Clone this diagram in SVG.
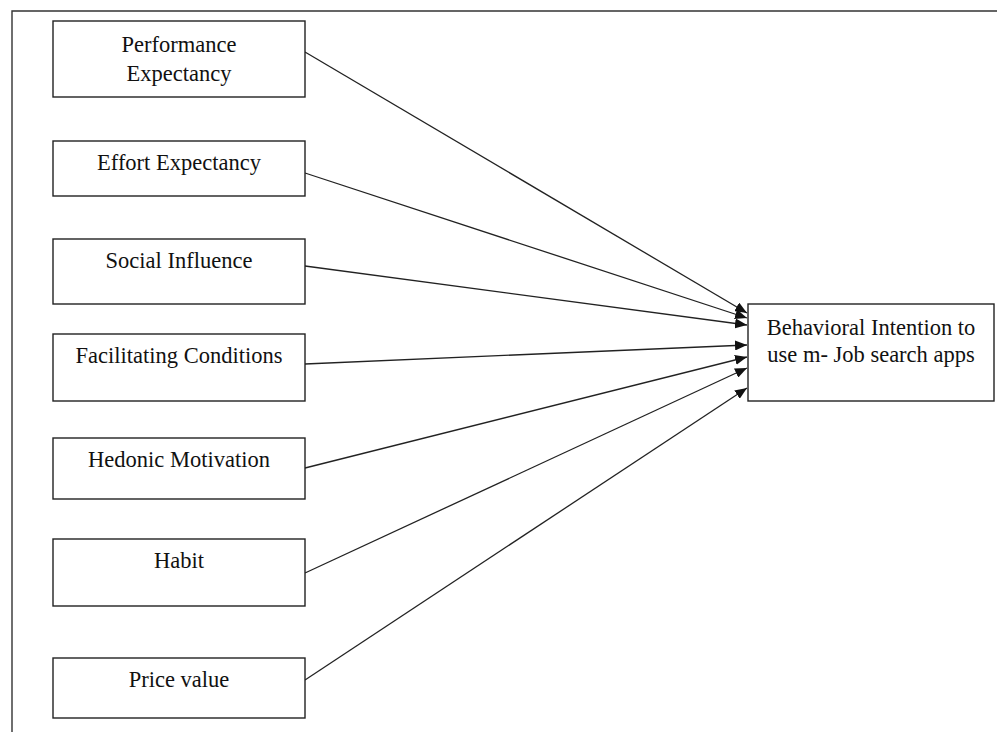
<svg xmlns="http://www.w3.org/2000/svg" width="997" height="732" viewBox="0 0 997 732">
<style>
.box{fill:#fff;stroke:#222;stroke-width:1.4}
.t{font-family:"Liberation Serif","Times New Roman",serif;font-size:22.5px;fill:#111;text-anchor:middle}
.c{stroke:#222;stroke-width:1.3;fill:none;marker-end:url(#ah)}
</style>
<defs>
<marker id="ah" markerUnits="userSpaceOnUse" markerWidth="12" markerHeight="10" refX="12" refY="5" orient="auto">
<path d="M0,0 L12,5 L0,10 Z" fill="#111"/>
</marker>
</defs>
<rect width="997" height="732" fill="#fff"/>
<path d="M12,732 L12,11 L997,11" stroke="#333" stroke-width="1.4" fill="none"/>
<g id="connectors">
<line class="c" x1="305" y1="52" x2="747" y2="313"/>
<line class="c" x1="305" y1="173" x2="747" y2="318"/>
<line class="c" x1="305" y1="266" x2="747" y2="325"/>
<line class="c" x1="305" y1="364" x2="747" y2="345"/>
<line class="c" x1="305" y1="468" x2="747" y2="357"/>
<line class="c" x1="305" y1="573" x2="747" y2="368"/>
<line class="c" x1="305" y1="680" x2="747" y2="388"/>
</g>
<g id="n1"><rect class="box" x="53" y="21" width="252" height="76"/><text class="t" x="179" y="52">Performance</text><text class="t" x="179" y="81">Expectancy</text></g>
<g id="n2"><rect class="box" x="53" y="141" width="252" height="55"/><text class="t" x="179" y="170">Effort Expectancy</text></g>
<g id="n3"><rect class="box" x="53" y="239" width="252" height="65"/><text class="t" x="179" y="268">Social Influence</text></g>
<g id="n4"><rect class="box" x="53" y="334" width="252" height="67"/><text class="t" x="179" y="363">Facilitating Conditions</text></g>
<g id="n5"><rect class="box" x="53" y="438" width="252" height="61"/><text class="t" x="179" y="467">Hedonic Motivation</text></g>
<g id="n6"><rect class="box" x="53" y="539" width="252" height="67"/><text class="t" x="179" y="568">Habit</text></g>
<g id="n7"><rect class="box" x="53" y="658" width="252" height="60"/><text class="t" x="179" y="687">Price value</text></g>
<g id="n8"><rect class="box" x="748" y="304" width="246" height="97"/><text class="t" x="871" y="335">Behavioral Intention to</text><text class="t" x="871" y="362">use m- Job search apps</text></g>
</svg>
